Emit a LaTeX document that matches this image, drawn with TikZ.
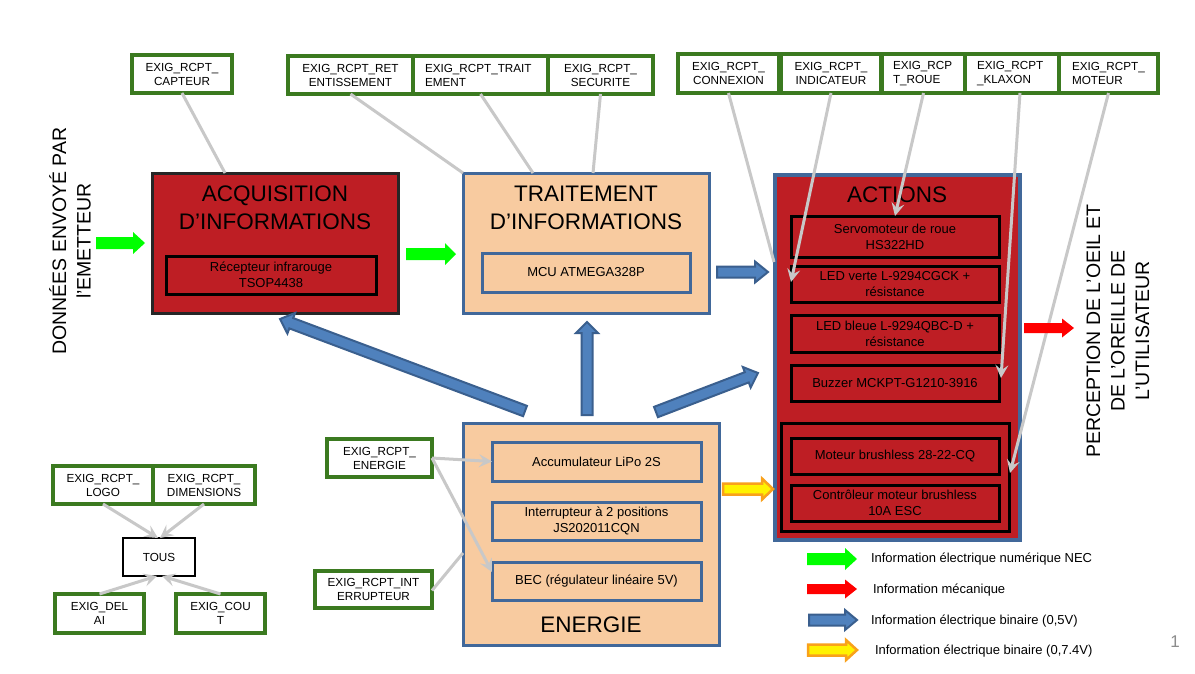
\documentclass[tikz,border=0pt]{standalone}
\usepackage{fontspec}
\setmainfont{Liberation Sans}
\usetikzlibrary{arrows.meta,calc}

\definecolor{dred}{HTML}{BE1E24}
\definecolor{peach}{HTML}{F8CBA0}
\definecolor{bborder}{HTML}{41689A}
\definecolor{gborder}{HTML}{3B7A20}
\definecolor{conncol}{HTML}{C8C8C8}
\definecolor{bfill}{HTML}{4F81BD}
\definecolor{bdark}{HTML}{3A5F8E}
\definecolor{ngreen}{HTML}{00FF00}
\definecolor{orng}{HTML}{F9A11B}
\definecolor{acqborder}{HTML}{262626}
\definecolor{pagegray}{HTML}{8C8C8C}

\tikzset{
  every node/.style={inner sep=0pt, outer sep=0pt},
  exig/.style={draw=gborder, line width=3.5pt, fill=white, align=center,
    font=\fontsize{11.7}{14}\selectfont},
  exigl/.style={exig, align=left},
  tousbox/.style={draw=black, line width=1.2pt, fill=white, font=\fontsize{11.7}{14}\selectfont},
  redblock/.style={fill=dred, draw=acqborder, line width=3pt},
  peachblock/.style={fill=peach, draw=bborder, line width=3pt},
  actblock/.style={fill=dred, draw=bborder, line width=3.5pt},
  reditem/.style={fill=dred, draw=black, line width=3pt, align=center,
    font=\fontsize{13}{15.7}\selectfont},
  peachitem/.style={fill=peach, draw=bborder, line width=3pt, align=center,
    font=\fontsize{13}{15.7}\selectfont},
  grpbox/.style={draw=black, line width=3pt},
  titletext/.style={align=center, font=\fontsize{22.5}{28}\selectfont},
  sidetext/.style={align=center, rotate=90, font=\fontsize{19.5}{24.5}\selectfont},
  legtext/.style={anchor=west, font=\fontsize{13}{15.7}\selectfont},
  conn/.style={draw=conncol, line width=3pt},
  connarr/.style={conn, -{Stealth[length=13pt,width=13pt,inset=5pt]}},
  greenarr/.style={fill=ngreen},
  redarr/.style={fill=red},
  bluearr/.style={fill=bfill, draw=bdark, line width=2pt},
  orangearr/.style={fill=yellow, draw=orng, line width=2.5pt},
}

% #1 style, #2 name, #3 x1, #4 y1, #5 x2, #6 y2, #7 text
\newcommand\bx[7]{\node[#1, minimum width={#5-#3}, minimum height={#6-#4}] (#2) at ({(#3+#5)/2},{(#4+#6)/2}) {#7};}

% #1 style, #2 from, #3 to, #4 shaft half width, #5 head half width, #6 head length
\newcommand\blockarrow[6]{%
  \path[#1] let \p1=(#2), \p2=(#3), \n1={atan2(\y2-\y1,\x2-\x1)}, \n2={veclen(\x2-\x1,\y2-\y1)} in
   {[shift={(\p1)}, rotate=\n1]
    (0,-#4) -- ({\n2-#6},-#4) -- ({\n2-#6},-#5) -- (\n2,0) -- ({\n2-#6},#5) -- ({\n2-#6},#4) -- (0,#4) -- cycle};}

\begin{document}
\begin{tikzpicture}[x=1pt,y=-1pt]
\useasboundingbox (0,0) rectangle (1195,673);
\fill[white] (0,0) rectangle (1195,673);

% ---------- main blocks ----------
\bx{redblock}{acq}{152}{173}{398}{313}{}
\bx{peachblock}{trt}{463}{173}{709}{313}{}
\bx{peachblock}{ene}{463}{423}{719}{645}{}
\bx{actblock}{act}{775}{175}{1020}{540}{}

\node[titletext] (acqt) at (275,207.5) {ACQUISITION\\D’INFORMATIONS};
\node[titletext] (trtt) at (586,207.5) {TRAITEMENT\\D’INFORMATIONS};
\node[titletext] (actt) at (897,195) {ACTIONS};
\node[titletext] (enet) at (591,625) {ENERGIE};

% ---------- inner items ----------
\bx{reditem}{tsop}{166}{256}{376}{294}{Récepteur infrarouge\\TSOP4438}
\bx{peachitem}{mcu}{482}{253}{690}{292}{MCU ATMEGA328P}
\bx{reditem}{servo}{791}{216}{999}{257}{Servomoteur de roue\\HS322HD}
\bx{reditem}{ledv}{791}{266}{999}{302}{LED verte L-9294CGCK +\\résistance}
\bx{reditem}{ledb}{791}{315}{999}{352}{LED bleue L-9294QBC-D +\\résistance}
\bx{reditem}{buz}{791}{365}{999}{401}{Buzzer MCKPT-G1210-3916}
\bx{grpbox}{grp}{781}{423}{1009}{531}{}
\bx{reditem}{motb}{791}{438}{999}{474}{Moteur brushless 28-22-CQ}
\bx{reditem}{esc}{791}{485}{999}{521}{Contrôleur moteur brushless\\10A ESC}
\bx{peachitem}{accu}{492}{442}{701}{481}{Accumulateur LiPo 2S}
\bx{peachitem}{intp}{492}{502}{701}{540}{Interrupteur à 2 positions\\JS202011CQN}
\bx{peachitem}{bec}{492}{562}{701}{600}{BEC (régulateur linéaire 5V)}

% ---------- requirement boxes ----------
\bx{exig}{cap}{132}{55}{232}{93}{EXIG\_RCPT\_\\CAPTEUR}
\bx{exig}{ret}{288}{56}{413}{94}{EXIG\_RCPT\_RET\\ENTISSEMENT}
\bx{exigl, text width=111pt}{trait}{413}{56}{548}{94}{EXIG\_RCPT\_TRAIT\\EMENT}
\bx{exig}{sec}{548}{56}{653}{94}{EXIG\_RCPT\_\\SECURITE}
\bx{exig}{con}{678}{54}{779}{93}{EXIG\_RCPT\_\\CONNEXION}
\bx{exig}{ind}{781}{54}{881}{93}{EXIG\_RCPT\_\\INDICATEUR}
\bx{exigl, text width=61pt}{roue}{882}{54}{965}{93}{EXIG\_RCP\\T\_ROUE}
\bx{exigl, text width=70pt}{kla}{965}{54}{1059}{93}{EXIG\_RCPT\\\_KLAXON}
\bx{exigl, text width=73pt}{mot}{1059}{54}{1158}{93}{EXIG\_RCPT\_\\MOTEUR}
\bx{exig}{ener}{327}{439}{432}{477}{EXIG\_RCPT\_\\ENERGIE}
\bx{exig}{inter}{315}{571}{432}{608}{EXIG\_RCPT\_INT\\ERRUPTEUR}
\bx{exig}{logo}{53}{466}{153}{504}{EXIG\_RCPT\_\\LOGO}
\bx{exig}{dim}{153}{466}{255}{504}{EXIG\_RCPT\_\\DIMENSIONS}
\bx{tousbox}{tous}{123}{538}{195}{576}{TOUS}
\bx{exig}{delai}{55}{594}{144}{633}{EXIG\_DEL\\AI}
\bx{exig}{cout}{176}{594}{265}{633}{EXIG\_COU\\T}

% ---------- side texts ----------
\node[sidetext] (src) at (70,241) {DONNÉES ENVOYÉ PAR\\l’EMETTEUR};
\node[sidetext] (user) at (1118,331) {PERCEPTION DE L’OEIL ET\\DE L’OREILLE DE\\L’UTILISATEUR};

% ---------- grey requirement links ----------
\draw[conn] (cap.south) -- ([xshift=73pt]acq.north west);
\draw[conn] (ret.south) -- (trt.north west);
\draw[conn] (trait.south) -- ([xshift=70pt]trt.north west);
\draw[conn] (sec.south) -- ([xshift=130pt]trt.north west);
\draw[conn] (con.south) -- ([xshift=-1pt,yshift=-87pt]act.north west);
\draw[connarr] (ind.south) -- ([yshift=-16pt]ledv.north west);
\draw[connarr] (roue.south) -- (servo.north);
\draw[connarr] ([xshift=8pt]kla.south) -- ([xshift=2pt,yshift=-13pt]buz.north east);
\draw[connarr] (mot.south) -- ([xshift=1pt,yshift=-50pt]grp.north east);
\draw[connarr] (ener.east) -- (accu.west);
\draw[connarr] (ener.east) -- ([yshift=-10pt]bec.north west);
\draw[conn] ([yshift=-1pt]inter.east) -- ([yshift=-19pt]ene.west);
\draw[connarr] (logo.south) -- ([xshift=-1pt]tous.north);
\draw[connarr] (dim.south) -- ([xshift=1pt]tous.north);
\draw[connarr] (delai.north) -- ([xshift=-2pt]tous.south);
\draw[connarr] (cout.north) -- ([xshift=3pt]tous.south);

% ---------- block arrows ----------
\coordinate (g1a) at (96,243);   \coordinate (g1b) at (145,243);
\coordinate (g2a) at (406,254);  \coordinate (g2b) at (456,254);
\coordinate (b1a) at (717,272);  \coordinate (b1b) at (768,272);
\coordinate (bua) at (587,415);  \coordinate (bub) at (587,322);
\coordinate (bra) at (656,412);  \coordinate (brb) at (758,373);
\coordinate (bla) at (525,411);  \coordinate (blb) at (280,319);
\coordinate (r1a) at (1024,328); \coordinate (r1b) at (1074,328);
\coordinate (o1a) at (723,489);  \coordinate (o1b) at (773,489);
\blockarrow{greenarr}{g1a}{g1b}{6}{11}{12}
\blockarrow{greenarr}{g2a}{g2b}{6}{11}{11}
\blockarrow{bluearr}{b1a}{b1b}{5.5}{10.5}{13}
\blockarrow{bluearr}{bua}{bub}{5.5}{11}{11}
\blockarrow{bluearr}{bra}{brb}{5.5}{11}{12}
\blockarrow{bluearr}{bla}{blb}{5.5}{11}{12}
\blockarrow{redarr}{r1a}{r1b}{5}{9.5}{12}
\blockarrow{orangearr}{o1a}{o1b}{5.5}{10.5}{11}

% ---------- legend ----------
\coordinate (l1a) at (807,559); \coordinate (l1b) at (857,559);
\coordinate (l2a) at (807,589); \coordinate (l2b) at (857,589);
\coordinate (l3a) at (809,620); \coordinate (l3b) at (857,620);
\coordinate (l4a) at (808,650); \coordinate (l4b) at (857,650);
\blockarrow{greenarr}{l1a}{l1b}{6}{11}{12}
\blockarrow{redarr}{l2a}{l2b}{5}{9.5}{12}
\blockarrow{bluearr}{l3a}{l3b}{5.5}{10}{12}
\blockarrow{orangearr}{l4a}{l4b}{5.5}{10}{11}
\node[legtext] (lt1) at (871,559) {Information électrique numérique NEC};
\node[legtext] (lt2) at (873,590) {Information mécanique};
\node[legtext] (lt3) at (871,621) {Information électrique binaire (0,5V)};
\node[legtext] (lt4) at (875,651) {Information électrique binaire (0,7.4V)};

\node[text=pagegray, font=\fontsize{17}{20}\selectfont] (page) at (1175,642) {1};
\end{tikzpicture}
\end{document}
